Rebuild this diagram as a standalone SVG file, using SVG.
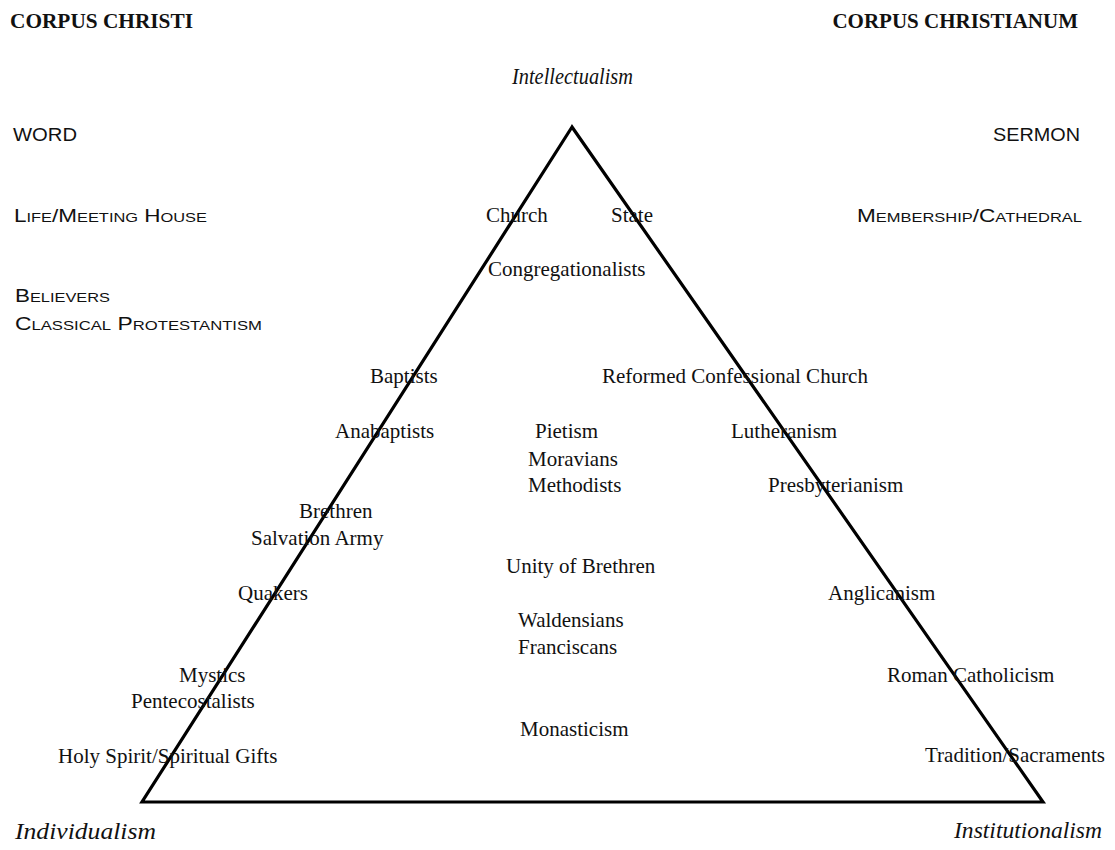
<svg xmlns="http://www.w3.org/2000/svg" width="1115" height="850" viewBox="0 0 1115 850">
<style>
.t{font-family:"Liberation Serif","Times New Roman",serif;font-size:21px;fill:#111}
.b{font-family:"Liberation Serif","Times New Roman",serif;font-size:21px;font-weight:bold;fill:#111}
.i{font-family:"Liberation Serif","Times New Roman",serif;font-size:23px;font-style:italic;fill:#111}
.sc{font-family:"Liberation Sans",Arial,sans-serif;font-size:18.5px;fill:#111}
.sm{font-size:13.5px}
.edge{fill:none;stroke:#000;stroke-width:3.2;stroke-linejoin:miter}
</style>
<rect width="1115" height="850" fill="#fff"/>
<g id="connectors">
<polygon class="edge" points="572,127 142,802 1043,802"/>
</g>
<g id="headers">
<text class="b" x="10" y="28" textLength="183" lengthAdjust="spacingAndGlyphs">CORPUS CHRISTI</text>
<text class="b" x="1078" y="28" text-anchor="end">CORPUS CHRISTIANUM</text>
<text class="i" x="512" y="84" textLength="121" lengthAdjust="spacingAndGlyphs">Intellectualism</text>
<text class="i" x="15" y="839" textLength="141" lengthAdjust="spacingAndGlyphs">Individualism</text>
<text class="i" x="954" y="838" textLength="148" lengthAdjust="spacingAndGlyphs">Institutionalism</text>
</g>
<g id="side-labels">
<text class="sc" x="13" y="141" textLength="64" lengthAdjust="spacingAndGlyphs">WORD</text>
<text class="sc" x="993" y="141" textLength="87" lengthAdjust="spacingAndGlyphs">SERMON</text>
<text class="sc" x="14" y="222" textLength="193" lengthAdjust="spacingAndGlyphs">L<tspan class="sm">IFE</tspan>/M<tspan class="sm">EETING</tspan> H<tspan class="sm">OUSE</tspan></text>
<text class="sc" x="857" y="222" textLength="225" lengthAdjust="spacingAndGlyphs">M<tspan class="sm">EMBERSHIP</tspan>/C<tspan class="sm">ATHEDRAL</tspan></text>
<text class="sc" x="15" y="302" textLength="95" lengthAdjust="spacingAndGlyphs">B<tspan class="sm">ELIEVERS</tspan></text>
<text class="sc" x="15" y="330" textLength="247" lengthAdjust="spacingAndGlyphs">C<tspan class="sm">LASSICAL</tspan> P<tspan class="sm">ROTESTANTISM</tspan></text>
</g>
<g id="node-church"><text class="t" x="486" y="222">Church</text></g>
<g id="node-state"><text class="t" x="611" y="222">State</text></g>
<g id="node-congregationalists"><text class="t" x="488" y="276">Congregationalists</text></g>
<g id="node-baptists"><text class="t" x="370" y="383">Baptists</text></g>
<g id="node-reformed"><text class="t" x="602" y="383">Reformed Confessional Church</text></g>
<g id="node-anabaptists"><text class="t" x="335" y="438">Anabaptists</text></g>
<g id="node-pietism">
<text class="t" x="535" y="438">Pietism</text>
<text class="t" x="528" y="466">Moravians</text>
<text class="t" x="528" y="492">Methodists</text>
</g>
<g id="node-lutheranism"><text class="t" x="731" y="438">Lutheranism</text></g>
<g id="node-presbyterianism"><text class="t" x="768" y="492">Presbyterianism</text></g>
<g id="node-brethren">
<text class="t" x="299" y="518">Brethren</text>
<text class="t" x="251" y="545">Salvation Army</text>
</g>
<g id="node-unity"><text class="t" x="506" y="573">Unity of Brethren</text></g>
<g id="node-quakers"><text class="t" x="238" y="600">Quakers</text></g>
<g id="node-anglicanism"><text class="t" x="828" y="600">Anglicanism</text></g>
<g id="node-waldensians">
<text class="t" x="518" y="627">Waldensians</text>
<text class="t" x="518" y="654">Franciscans</text>
</g>
<g id="node-mystics">
<text class="t" x="179" y="682">Mystics</text>
<text class="t" x="131" y="708">Pentecostalists</text>
</g>
<g id="node-roman-catholicism"><text class="t" x="887" y="682">Roman Catholicism</text></g>
<g id="node-monasticism"><text class="t" x="520" y="736">Monasticism</text></g>
<g id="node-holy-spirit"><text class="t" x="58" y="763">Holy Spirit/Spiritual Gifts</text></g>
<g id="node-tradition"><text class="t" x="925" y="762">Tradition/Sacraments</text></g>
</svg>
